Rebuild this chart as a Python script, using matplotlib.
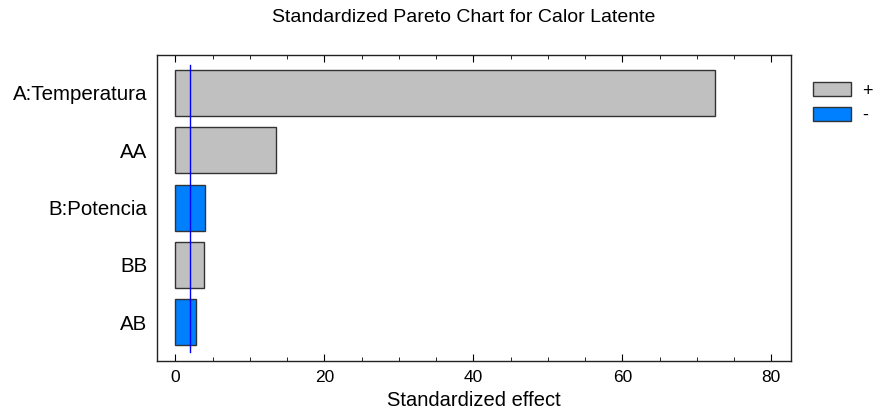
import matplotlib
matplotlib.use("Agg")
import matplotlib.pyplot as plt
from matplotlib.patches import Patch
from matplotlib.ticker import MultipleLocator

plt.rcParams['font.family'] = ['Liberation Sans', 'DejaVu Sans']

# Effects, listed top to bottom
factors = ["A:Temperatura", "AA", "B:Potencia", "BB", "AB"]
effects = [72.4, 13.5, 4.0, 3.8, 2.8]
signs = ["+", "+", "-", "+", "-"]
critical_value = 2.0

pos_color = "#C0C0C0"
neg_color = "#0080FF"

fig = plt.figure(figsize=(8.75, 4.16), dpi=100)
ax = fig.add_axes([157 / 875, 1 - 360.7 / 416, (790.7 - 157) / 875, (360.7 - 55) / 416])

ypos = list(range(len(factors)))
colors = [pos_color if s == "+" else neg_color for s in signs]
ax.barh(ypos, effects, height=0.8, color=colors, edgecolor="#333333", linewidth=1.0, zorder=2)

ax.plot([critical_value, critical_value], [-0.48, 4.52], color="#0000FF", linewidth=1.0, zorder=3)

ax.set_xlim(-2.46, 82.6)
ax.set_ylim(4.67, -0.66)
ax.set_yticks(ypos)
ax.set_yticklabels(factors, fontsize=14.8)
ax.tick_params(axis="y", length=0, pad=7)

ax.xaxis.set_major_locator(MultipleLocator(20))
ax.xaxis.set_minor_locator(MultipleLocator(5))
ax.tick_params(axis="x", which="major", direction="in", length=5, top=True, labelsize=12.5, pad=7)
ax.tick_params(axis="x", which="minor", direction="in", length=3, top=True)

for sp in ax.spines.values():
    sp.set_linewidth(1.0)
    sp.set_color("#222222")

ax.set_xlabel("Standardized effect", fontsize=14.5, labelpad=4)
fig.text(272 / 875, 1 - 22 / 416, "Standardized Pareto Chart for Calor Latente",
         ha="left", va="baseline", fontsize=14)

handles = [Patch(facecolor=pos_color, edgecolor="#333333", label="+"),
           Patch(facecolor=neg_color, edgecolor="#333333", label="-")]
fig.legend(handles=handles, loc="upper left", bbox_to_anchor=(806 / 875, 1 - 75 / 416),
           frameon=False, fontsize=13, handlelength=2.1, handleheight=0.83,
           handletextpad=0.6, labelspacing=0.4, borderaxespad=0)

fig.savefig("out.png", dpi=100)
